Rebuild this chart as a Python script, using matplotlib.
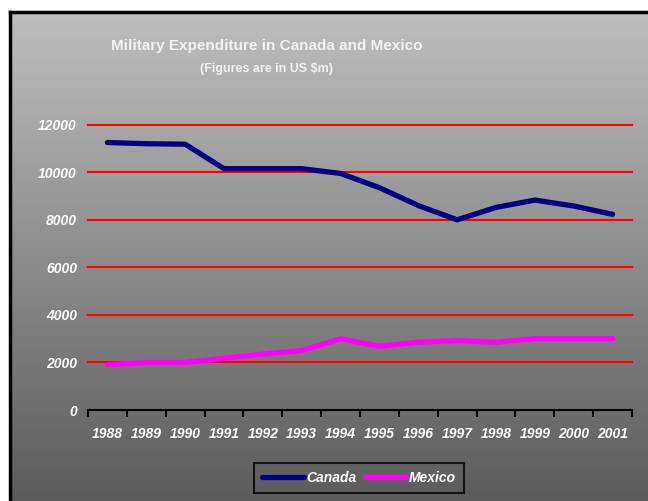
import numpy as np
import matplotlib
matplotlib.use("Agg")
from matplotlib import pyplot as plt
from matplotlib.colors import LinearSegmentedColormap

# data
years = ["1988", "1989", "1990", "1991", "1992", "1993", "1994",
         "1995", "1996", "1997", "1998", "1999", "2000", "2001"]
canada = [11250, 11200, 11180, 10150, 10150, 10150, 9950,
          9350, 8600, 8000, 8520, 8830, 8580, 8230]
mexico = [1900, 2000, 2000, 2180, 2350, 2500, 3000,
          2680, 2850, 2920, 2850, 3000, 3000, 3000]
y_ticks = [0, 2000, 4000, 6000, 8000, 10000, 12000]

W, H = 648, 501
plt.rcParams['font.family'] = ['Liberation Sans', 'DejaVu Sans']
fig = plt.figure(figsize=(W / 100, H / 100), dpi=100)
fig.patch.set_facecolor("white")

# gradient background with black frame on left/top
bg = fig.add_axes([10 / W, 0, 1 - 10 / W, (H - 12) / H])
grad = np.linspace(0, 1, 256).reshape(-1, 1)
cmap = LinearSegmentedColormap.from_list("bg", ["#bebebe", "#5c5c5c"])
bg.imshow(grad, aspect="auto", cmap=cmap, extent=[0, 1, 0, 1], origin="upper")
bg.set_xlim(0, 1)
bg.set_ylim(0, 1)
bg.set_xticks([])
bg.set_yticks([])
for side in ["right", "bottom"]:
    bg.spines[side].set_visible(False)
for side in ["left", "top"]:
    bg.spines[side].set_linewidth(2.5)
    bg.spines[side].set_color("black")

# title
fig.text(267 / W, 1 - 46 / H, "Military Expenditure in Canada and Mexico",
         ha="center", va="center", color="#f2f2f2", fontsize=11, fontweight="bold")
fig.text(267 / W, 1 - 69 / H, "(Figures are in US $m)",
         ha="center", va="center", color="#f2f2f2", fontsize=9, fontweight="bold")

# main plot
ax = fig.add_axes([88 / W, (H - 410) / H, (632 - 88) / W, (410 - 124.7) / H])
ax.patch.set_alpha(0)
x = np.arange(len(years))
ax.set_xlim(-0.5, len(years) - 0.5)
ax.set_ylim(0, 12000)
ax.set_yticks(y_ticks)
for yv in y_ticks[1:]:
    ax.axhline(yv, color="#ff0000", linewidth=1.5, zorder=1, clip_on=False)

ax.plot(x, canada, color="#000080", linewidth=3.8, solid_capstyle="round",
        solid_joinstyle="round", label="Canada", zorder=3)
ax.plot(x, mexico, color="#ff00ff", linewidth=3.8, solid_capstyle="round",
        solid_joinstyle="round", label="Mexico", zorder=3)

for side in ["top", "right", "left"]:
    ax.spines[side].set_visible(False)
ax.spines["bottom"].set_linewidth(1.5)
ax.spines["bottom"].set_color("black")

ax.set_xticks(x)
ax.set_xticklabels(years)
ax.set_xticks(np.arange(-0.5, len(years)), minor=True)
ax.tick_params(axis="x", which="major", length=0, pad=12)
ax.tick_params(axis="x", which="minor", length=5, width=1.5, direction="out", color="black")
ax.tick_params(axis="y", length=0, pad=8)
for lab in ax.get_xticklabels() + ax.get_yticklabels():
    lab.set_color("white")
    lab.set_fontsize(10)
    lab.set_fontweight("bold")
    lab.set_fontstyle("italic")

leg = ax.legend(loc="center", bbox_to_anchor=(359 / W, 1 - 478 / H),
                bbox_transform=fig.transFigure, ncol=2, frameon=True,
                fancybox=False, handlelength=3.0, handletextpad=0.15,
                columnspacing=0.6, borderpad=0.6,
                prop={"weight": "bold", "style": "italic", "size": 10})
leg.get_frame().set_facecolor("none")
leg.get_frame().set_edgecolor("black")
leg.get_frame().set_linewidth(1.5)
for t in leg.get_texts():
    t.set_color("white")

fig.savefig("out.png", dpi=100)
